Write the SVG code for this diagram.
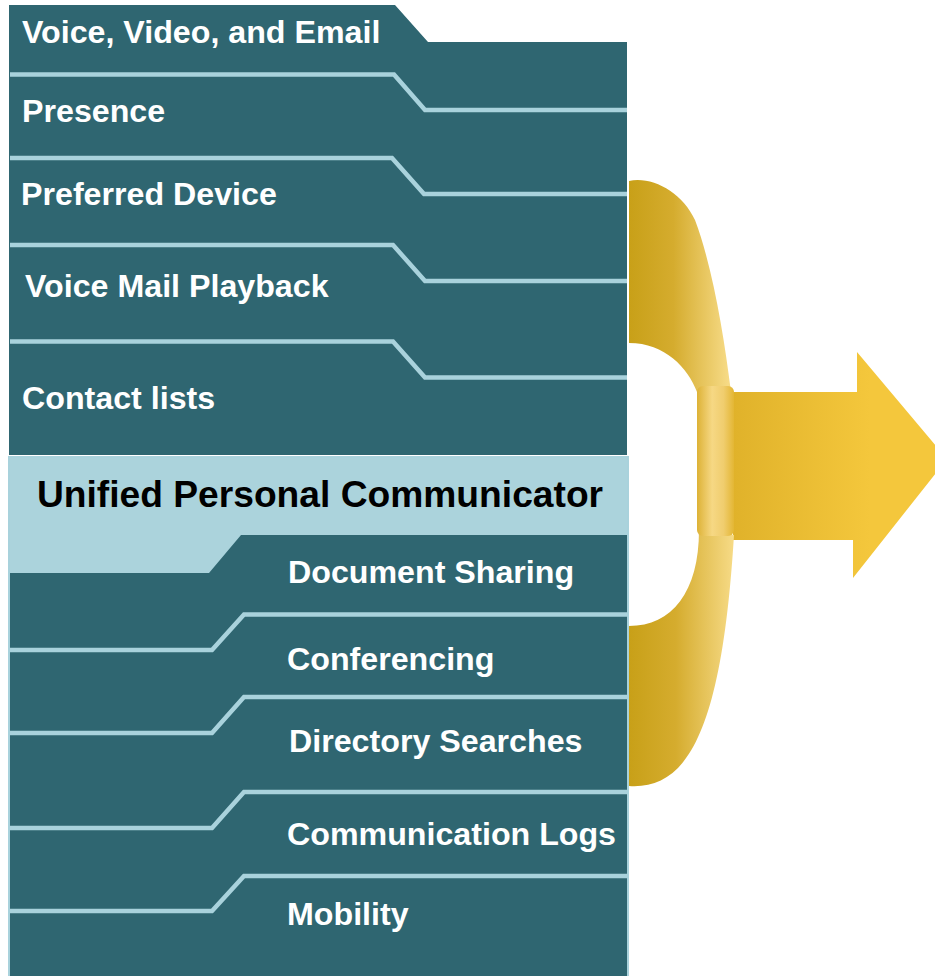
<svg xmlns="http://www.w3.org/2000/svg" width="935" height="976" viewBox="0 0 935 976">
<defs>
<style>
.teal{fill:#2F6671}
.light{fill:#ABD3DC}
.sep{fill:none;stroke:#A9D2DC;stroke-width:4.5}
.lbl{font-family:"Liberation Sans",Arial,sans-serif;font-weight:bold;font-size:32.2px;fill:#FFFFFF}
.title{font-family:"Liberation Sans",Arial,sans-serif;font-weight:bold;font-size:37.2px;fill:#000000}
</style>
<linearGradient id="gUp" gradientUnits="userSpaceOnUse" x1="629" y1="0" x2="728" y2="0">
<stop offset="0" stop-color="#C8A018"/><stop offset="0.45" stop-color="#D5AC2E"/><stop offset="1" stop-color="#F6DA85"/>
</linearGradient>
<linearGradient id="gLow" gradientUnits="userSpaceOnUse" x1="629" y1="0" x2="733" y2="0">
<stop offset="0" stop-color="#C8A018"/><stop offset="0.45" stop-color="#D5AC2E"/><stop offset="1" stop-color="#F6DA85"/>
</linearGradient>
<linearGradient id="gStem" gradientUnits="userSpaceOnUse" x1="697" y1="0" x2="735" y2="0">
<stop offset="0" stop-color="#DDB236"/><stop offset="0.4" stop-color="#F6D884"/><stop offset="0.7" stop-color="#F0CD6E"/><stop offset="1" stop-color="#E2B42E"/>
</linearGradient>
<linearGradient id="gBody" gradientUnits="userSpaceOnUse" x1="733" y1="0" x2="870" y2="0">
<stop offset="0" stop-color="#E0B22A"/><stop offset="1" stop-color="#F4C73C"/>
</linearGradient>
</defs>

<g id="top-panel">
<path class="teal" d="M9,5 L395,5 L428,42 L627,42 L627,455 L9,455 Z"/>
</g>

<g id="bottom-panel">
<rect x="9" y="457" width="619" height="520" class="light" stroke="#A9D2DC" stroke-width="2"/>
<path class="teal" d="M10,573 L209,573 L241,535 L627,535 L627,976 L10,976 Z"/>
</g>

<g id="connectors">
<polyline class="sep" points="10,74.5 394,74.5 425,110 627,110"/>
<polyline class="sep" points="10,158 392,158 424,194 627,194"/>
<polyline class="sep" points="10,245 393,245 425,281 627,281"/>
<polyline class="sep" points="10,341.5 393,341.5 425,377.5 627,377.5"/>
<polyline class="sep" points="10,650 212,650 244,614.5 627,614.5"/>
<polyline class="sep" points="10,733 212,733 244,697 627,697"/>
<polyline class="sep" points="10,828 212,828 244,792 627,792"/>
<polyline class="sep" points="10,911 212,911 244,876 627,876"/>
</g>

<g id="arrow">
<path fill="url(#gBody)" d="M733,392 L857,392 L857,352 L947,459 L853,578 L853,540 L733,540 Z"/>
<path fill="url(#gUp)" d="M629,181 C652,176 682,192 695,220 C712,265 724,335 731,392 L697,392 C688,368 665,343 629,343 Z"/>
<path fill="url(#gLow)" d="M699,530 C699,592 672,626 629,626 L629,786 C688,790 722,730 734,535 Z"/>
<rect x="697" y="386" width="37" height="150" rx="6" fill="url(#gStem)"/>
</g>

<g id="item-voice-video-email"><text class="lbl" x="22" y="43">Voice, Video, and Email</text></g>
<g id="item-presence"><text class="lbl" x="22" y="122">Presence</text></g>
<g id="item-preferred-device"><text class="lbl" x="21" y="205">Preferred Device</text></g>
<g id="item-voice-mail"><text class="lbl" x="25" y="297">Voice Mail Playback</text></g>
<g id="item-contact-lists"><text class="lbl" x="22" y="409">Contact lists</text></g>
<g id="title"><text class="title" x="320" y="507" text-anchor="middle">Unified Personal Communicator</text></g>
<g id="item-document-sharing"><text class="lbl" x="288" y="583">Document Sharing</text></g>
<g id="item-conferencing"><text class="lbl" x="287" y="670">Conferencing</text></g>
<g id="item-directory-searches"><text class="lbl" x="289" y="752">Directory Searches</text></g>
<g id="item-communication-logs"><text class="lbl" x="287" y="845">Communication Logs</text></g>
<g id="item-mobility"><text class="lbl" x="287" y="925">Mobility</text></g>
</svg>
